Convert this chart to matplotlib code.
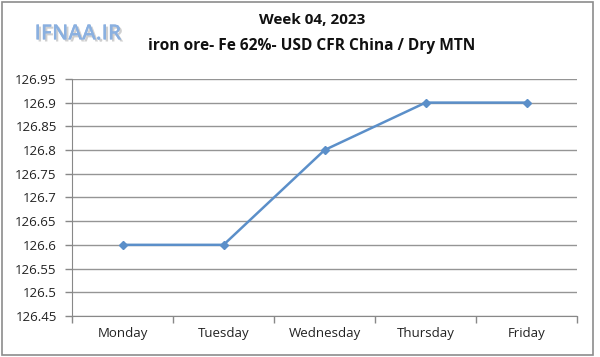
import matplotlib
matplotlib.use("Agg")
import matplotlib.pyplot as plt
import matplotlib.patheffects as pe
from matplotlib.patches import Rectangle

days = ["Monday", "Tuesday", "Wednesday", "Thursday", "Friday"]
prices = [126.6, 126.6, 126.8, 126.9, 126.9]
yticks = [126.45, 126.5, 126.55, 126.6, 126.65, 126.7, 126.75, 126.8, 126.85, 126.9, 126.95]
ytick_labels = ["126.45", "126.5", "126.55", "126.6", "126.65", "126.7", "126.75", "126.8", "126.85", "126.9", "126.95"]

plt.rcParams['font.family'] = ['Open Sans', 'DejaVu Sans']

fig = plt.figure(figsize=(6, 3.57), dpi=100)
ax = fig.add_axes([0.12, 0.115, 0.842, 0.664])

x = list(range(len(days)))
ax.plot(x, prices, color='#5B8FC9', lw=1.8, marker='D', ms=4, mec='#5B8FC9', mfc='#5B8FC9', zorder=3)

ax.set_xlim(-0.5, len(days) - 0.5)
ax.set_ylim(126.45, 126.95)
ax.set_yticks(yticks)
ax.set_yticklabels(ytick_labels, fontsize=9.5, color='#222222')
ax.set_xticks(x)
ax.set_xticklabels(days, fontsize=9.5, color='#222222')
ax.tick_params(axis='x', length=0, pad=8)
ax.tick_params(axis='y', length=5, color='#888888', width=1, pad=6)
ax.set_xticks([i - 0.5 for i in range(len(days) + 1)], minor=True)
ax.tick_params(axis='x', which='minor', length=5, color='#888888', width=1)

ax.grid(axis='y', color='#959595', lw=1)
ax.set_axisbelow(True)
for s in ['top', 'right']:
    ax.spines[s].set_visible(False)
ax.spines['left'].set_color('#888888')
ax.spines['bottom'].set_color('#888888')

fig.text(0.52, 0.945, "Week 04, 2023", ha='center', va='center', fontsize=11, fontweight='bold', color='#111111')
fig.text(0.52, 0.872, "iron ore- Fe 62%- USD CFR China / Dry MTN", ha='center', va='center', fontsize=11.2, fontweight='bold', color='#111111')

fig.text(0.13, 0.905, "IFNAA.IR", ha='center', va='center', fontsize=15, fontweight='semibold', color='#8AB0E0',
         path_effects=[pe.withSimplePatchShadow(offset=(1.5, -1.5), shadow_rgbFace='#a0a0a0', alpha=0.5), pe.Normal()])

fig.patches.append(Rectangle((0.003, 0.005), 0.985, 0.99, transform=fig.transFigure, fill=False, edgecolor='#8c8c8c', lw=1.2))

fig.savefig("out.png", dpi=100)
